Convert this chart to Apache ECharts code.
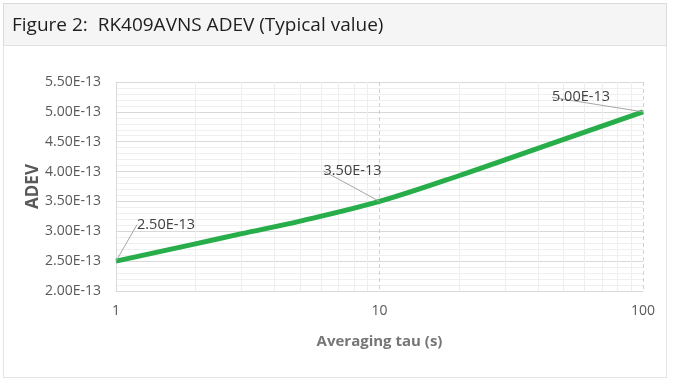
<!DOCTYPE html>
<html>
<head>
<meta charset="utf-8">
<script src="https://cdn.jsdelivr.net/npm/echarts@6/dist/echarts.min.js"></script>
<style>
html,body{margin:0;padding:0;background:#fff;}
#chart{width:674px;height:384px;}
</style>
</head>
<body>
<div id="chart"></div>
<script>
// Data (ADEV in units of 1E-13)
const titleText = 'Figure 2:  RK409AVNS ADEV (Typical value)';
const tau = [1, 2, 3, 5, 10, 20, 50, 100];
const adev = [2.50, 2.79, 2.96, 3.17, 3.50, 3.93, 4.54, 5.00];
const labeledTau = [1, 10, 100];
const xMinorLines = [2, 3, 4, 5, 6, 7, 8, 9, 20, 30, 40, 50, 60, 70, 80, 90];
const xName = 'Averaging tau (s)';
const yName = 'ADEV';

const font = '"Open Sans", "Noto Sans", sans-serif';
const chart = echarts.init(document.getElementById('chart'));

const labelOffsets = {1: [50, -24], 10: [-27, -18], 100: [-62, -2]};

const seriesData = tau.map((t, i) => ({
  value: [t, adev[i]],
  label: {show: labeledTau.includes(t)}
}));

chart.setOption({
  animation: false,
  graphic: [
    {type: 'rect', shape: {x: 3.5, y: 3.5, width: 663, height: 374}, style: {fill: '#ffffff', stroke: '#c8c8c8', lineWidth: 1, lineDash: [1, 1]}, z: -10},
    {type: 'rect', shape: {x: 3.5, y: 3.5, width: 663, height: 42}, style: {fill: '#f4f5f4', stroke: '#c8c8c8', lineWidth: 1, lineDash: [1, 1]}, z: -9}
  ],
  title: {
    text: titleText,
    left: 7, top: 11,
    textStyle: {fontFamily: font, fontSize: 19, fontWeight: 'normal', color: '#1e1e1e'}
  },
  grid: {left: 116, right: 31, top: 82, bottom: 93},
  xAxis: {
    type: 'log', logBase: 10, min: 1, max: 100,
    name: xName, nameLocation: 'middle', nameGap: 43, nameMoveOverlap: false,
    nameTextStyle: {fontFamily: font, fontSize: 15, fontWeight: 'bold', color: '#767676'},
    axisLine: {show: true, lineStyle: {color: '#d9d9d9'}},
    axisTick: {show: false},
    axisLabel: {fontFamily: font, fontSize: 14, color: '#595959', margin: 13},
    splitLine: {show: true, lineStyle: {color: '#d0d0d0', type: [4, 3]}}
  },
  yAxis: {
    type: 'value', min: 2.0, max: 5.5, interval: 0.5,
    name: yName, nameLocation: 'middle', nameGap: 74, nameMoveOverlap: false,
    nameTextStyle: {fontFamily: font, fontSize: 17, fontWeight: 'bold', color: '#595959'},
    axisLine: {show: true, lineStyle: {color: '#d9d9d9'}},
    axisTick: {show: false},
    axisLabel: {fontFamily: font, fontSize: 14, color: '#595959', margin: 15,
      formatter: v => v.toFixed(2) + 'E-13'},
    splitLine: {show: true, lineStyle: {color: '#d9d9d9'}},
    minorTick: {show: false, splitNumber: 5},
    minorSplitLine: {show: true, lineStyle: {color: '#efefef'}}
  },
  series: [{
    type: 'line',
    data: seriesData,
    smooth: 0.35,
    showSymbol: true,
    symbol: 'circle',
    symbolSize: 0,
    lineStyle: {color: '#27ae4a', width: 5},
    itemStyle: {color: '#27ae4a'},
    label: {
      position: 'top',
      fontFamily: font, fontSize: 14.5, color: '#404040',
      formatter: p => p.value[1].toFixed(2) + 'E-13'
    },
    labelLine: {show: true, length2: 8, lineStyle: {color: '#a6a6a6', width: 1}},
    labelLayout: function (params) {
      const t = tau[params.dataIndex];
      const o = labelOffsets[t];
      if (!o) return {};
      return {dx: o[0], dy: o[1]};
    },
    markLine: {
      silent: true, symbol: 'none', label: {show: false},
      lineStyle: {color: '#eeeeee', type: 'solid', width: 1},
      data: xMinorLines.map(v => ({xAxis: v}))
    },
    z: 5
  }]
});
</script>
</body>
</html>
